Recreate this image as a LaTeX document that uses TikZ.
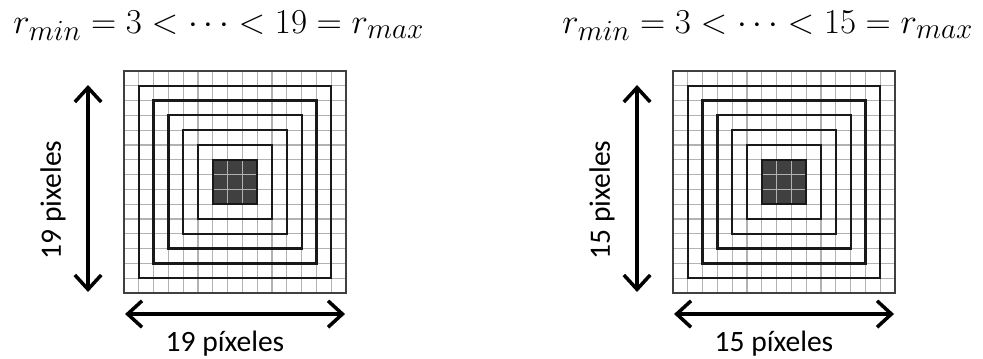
\documentclass[tikz,border=0pt]{standalone}
\usepackage{amsmath,amssymb}
\usepackage{fontspec}
\setmainfont{Carlito}
\usepackage{tikz}
\usetikzlibrary{arrows.meta}
\tikzset{
  rejilla/.style  = {gray!60, line width=0.9pt},
  borde/.style    = {black!75, line width=1.4pt},
  anillo/.style   = {black!90, line width=1.6pt},
  oscuro/.style   = {fill=black!75},
  flechados/.style = {{Straight Barb[length=0.36cm,width=0.66cm]}-{Straight Barb[length=0.36cm,width=0.66cm]}, black, line width=2.5pt},
  rotulo/.style   = {font=\fontsize{21}{25}\selectfont, inner sep=0pt},
  titulo/.style   = {font=\fontsize{27.5}{32}\selectfont, inner sep=0pt}
}

\begin{document}
\begin{tikzpicture}[x=0.025cm, y=0.025cm]
  \useasboundingbox (0,0) rectangle (983,358);
  \foreach \gx/\n/\k in {124/19/a, 673/15/b}{
    \begin{scope}[shift={(\gx,65)}, x=0.37cm, y=0.37cm]
      % celdas centrales
      \fill[oscuro] (6,6) rectangle (9,9);
      \foreach \i in {1,...,14}{
        \draw[rejilla] (\i,0) -- (\i,15);
        \draw[rejilla] (0,\i) -- (15,\i);
      }
      \draw[borde] (0,0) rectangle (15,15);
      \foreach \r in {1,...,5}{\draw[anillo] (\r,\r) rectangle (15-\r,15-\r);}
      \draw[anillo] (6,6) rectangle (9,9);
      % cotas
      \coordinate (vab\k) at (-2.43,0.07);
      \coordinate (var\k) at (-2.43,14.05);
      \coordinate (hiz\k) at (0.07,-1.42);
      \coordinate (hde\k) at (14.93,-1.42);
      \draw[flechados] (vab\k) -- (var\k);
      \draw[flechados] (hiz\k) -- (hde\k);
      \node[rotulo, rotate=90] (lv\k) at (-4.8,6.28) {\n\ pixeles};
      \node[rotulo] (lh\k) at (6.82,-3.4) {\n\ píxeles};
      \node[titulo] (tit\k) at (6.4,18.05) {$r_{min} = 3 < \cdots < \n = r_{max}$};
    \end{scope}
  }
\end{tikzpicture}
\end{document}
